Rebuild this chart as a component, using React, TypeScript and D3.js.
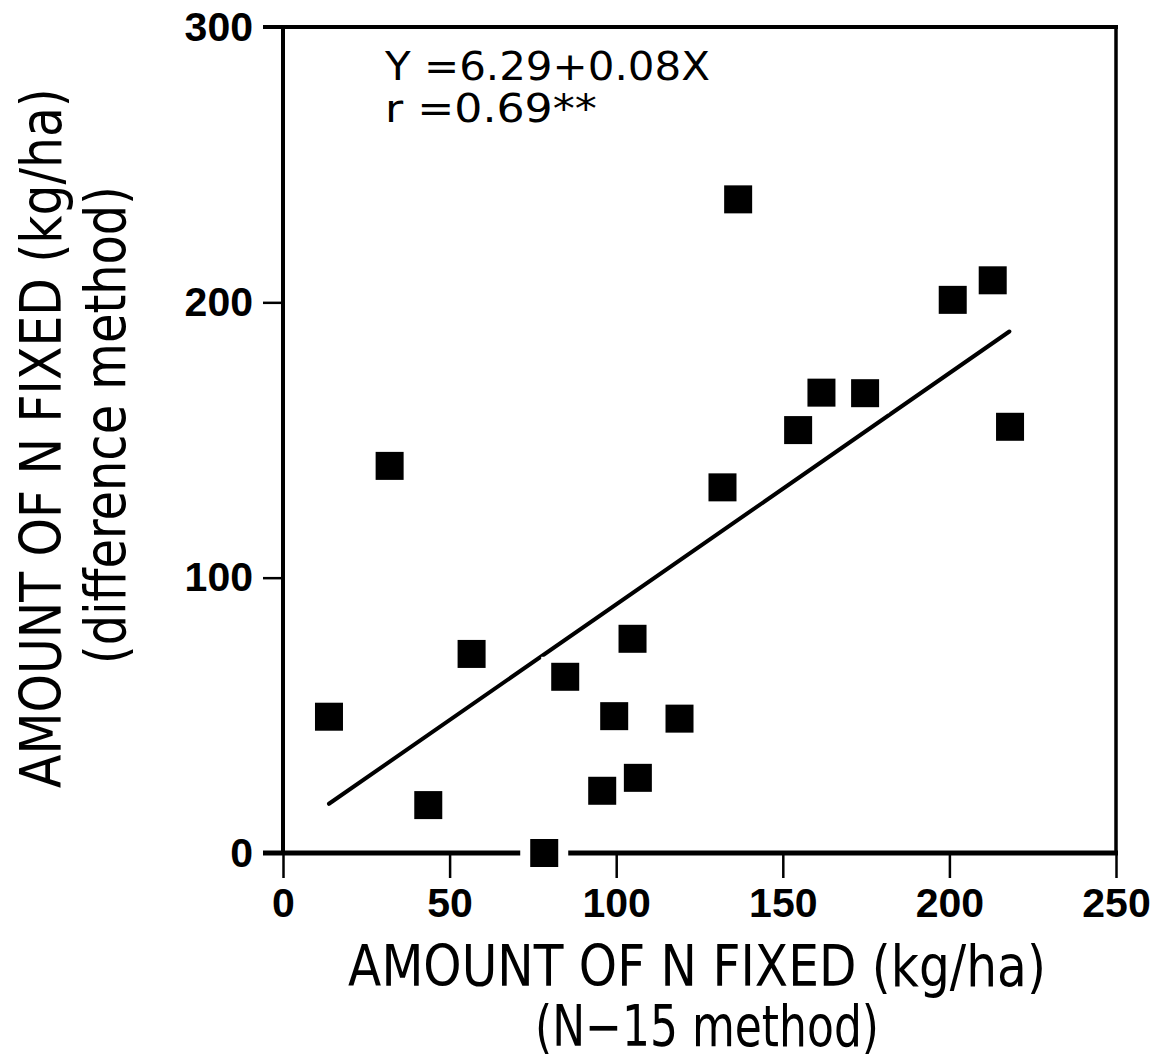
import { useEffect, useRef } from "react";
import * as d3 from "d3";

// N fixed by N-15 method (x) vs difference method (y), kg/ha
const n15Values = [13.8, 32, 43.6, 56.6, 78.4, 84.7, 95.8, 99.4, 104.9, 106.5, 119, 131.9, 136.6, 154.6, 161.6, 174.7, 201, 213, 218.2];
const diffValues = [49.5, 140.6, 17.4, 72.3, 0, 64, 22.6, 49.7, 77.8, 27.3, 48.8, 132.8, 237.4, 153.6, 167.2, 167, 200.9, 208, 154.8];

const xTicks = [0, 50, 100, 150, 200, 250];
const yTicks = [0, 100, 200, 300];

// fitted line as drawn in the figure
const fitIntercept = 6.29;
const fitSlope = 0.84;
const fitRange = [13.8, 218];

const equationLines = ["Y =6.29+0.08X", "r =0.69**"];
const xTitle = ["AMOUNT OF N FIXED (kg/ha)", "(N\u221215 method)"];
const yTitle = ["AMOUNT OF N FIXED (kg/ha)", "(difference method)"];

const W = 1163;
const H = 1063;
const FONT = "'DejaVu Sans', sans-serif";
const TICK_FONT = "'Liberation Sans', Arial, sans-serif";

// squeeze a text horizontally (in its own frame) to a given width
function fitWidth(sel: any, widths: number[], place: (i: number) => string) {
    sel.each(function (this: SVGTextElement, d: string, i: number) {
        const natural = this.getComputedTextLength();
        const sx = natural > 0 ? widths[i] / natural : 1;
        d3.select(this).attr("transform", `${place(i)} scale(${sx}, 1)`);
    });
}

export default function App() {
    const ref = useRef<SVGSVGElement>(null);

    useEffect(() => {
        const svg = d3.select(ref.current);
        svg.selectAll("*").remove();

        const x = d3.scaleLinear().domain([0, 250]).range([283, 1116]);
        const y = d3.scaleLinear().domain([0, 300]).range([853, 27]);

        // axes (ticks + labels only; the frame is drawn below)
        const xAxis = svg.append("g")
            .attr("transform", `translate(0, ${y(0)})`)
            .call(d3.axisBottom(x).tickValues(xTicks).tickSize(25).tickSizeOuter(0).tickPadding(10).tickFormat(d3.format("d")));
        const yAxis = svg.append("g")
            .attr("transform", `translate(${x(0)}, 0)`)
            .call(d3.axisLeft(y).tickValues(yTicks).tickSize(20).tickSizeOuter(0).tickPadding(10).tickFormat(d3.format("d")));

        [xAxis, yAxis].forEach(g => {
            g.select(".domain").remove();
            g.selectAll("line").attr("stroke", "#000").attr("stroke-width", 2.5);
            g.selectAll("text").attr("fill", "#000").style("font-family", TICK_FONT)
                .style("font-size", "41px").style("font-weight", "bold");
        });

        // frame
        const frame = svg.append("g").attr("stroke", "#000").attr("fill", "none");
        frame.append("line").attr("x1", x(0) - 20).attr("x2", x(250) + 2).attr("y1", y(300)).attr("y2", y(300)).attr("stroke-width", 4);
        frame.append("line").attr("x1", x(0) - 20).attr("x2", x(250) + 2).attr("y1", y(0)).attr("y2", y(0)).attr("stroke-width", 5);
        frame.append("line").attr("x1", x(0)).attr("x2", x(0)).attr("y1", y(300) - 2).attr("y2", y(0) + 2).attr("stroke-width", 4);
        frame.append("line").attr("x1", x(250)).attr("x2", x(250)).attr("y1", y(300) - 2).attr("y2", y(0) + 2).attr("stroke-width", 3.5);

        // regression line
        svg.append("line")
            .attr("x1", x(fitRange[0])).attr("y1", y(fitIntercept + fitSlope * fitRange[0]))
            .attr("x2", x(fitRange[1])).attr("y2", y(fitIntercept + fitSlope * fitRange[1]))
            .attr("stroke", "#000").attr("stroke-width", 4).attr("stroke-linecap", "round");

        const pts = n15Values.map((v, i) => ({ x: v, y: diffValues[i] }));
        const size = 28;

        // white halo around squares, cuts the lines like the original print
        svg.append("g").selectAll("rect").data(pts).join("rect")
            .attr("x", d => x(d.x) - size / 2 - 10).attr("y", d => y(d.y) - size / 2 - 6)
            .attr("width", size + 20).attr("height", size + 12)
            .attr("fill", "#fff");

        svg.append("g").selectAll("rect").data(pts).join("rect")
            .attr("x", d => x(d.x) - size / 2).attr("y", d => y(d.y) - size / 2)
            .attr("width", size).attr("height", size)
            .attr("fill", "#000");

        // equation
        const eq = svg.append("g").selectAll("text").data(equationLines).join("text")
            .style("font-family", FONT).style("font-size", "39px")
            .text(d => d);
        fitWidth(eq, [325, 212], i => `translate(385, ${80 + i * 42})`);

        // x title
        const xt = svg.append("g").selectAll("text").data(xTitle).join("text")
            .attr("text-anchor", "middle")
            .style("font-family", FONT).style("font-size", "57px")
            .text(d => d);
        fitWidth(xt, [698, 344], i => i === 0 ? "translate(697, 986)" : "translate(707, 1046)");

        // y title
        const yt = svg.append("g").selectAll("text").data(yTitle).join("text")
            .attr("text-anchor", "middle")
            .style("font-family", FONT).style("font-size", "57px")
            .text(d => d);
        fitWidth(yt, [700, 478], i => i === 0 ? "translate(61, 438) rotate(-90)" : "translate(125, 425) rotate(-90)");
    }, []);

    return <svg ref={ref} width={W} height={H} style={{ position: "absolute", left: 0, top: 0, background: "#fff" }}></svg>;
}
